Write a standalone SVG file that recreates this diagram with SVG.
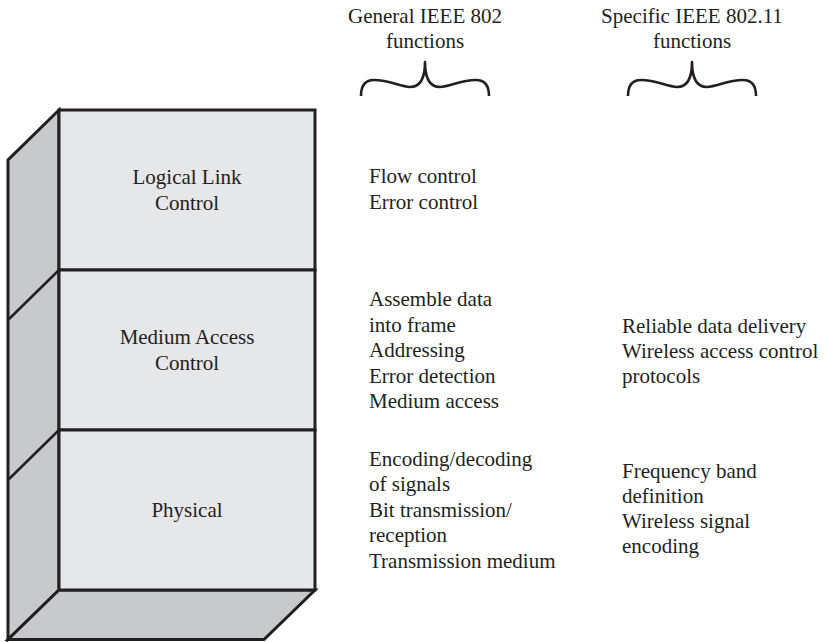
<svg xmlns="http://www.w3.org/2000/svg" width="825" height="642" viewBox="0 0 825 642">
<style>
text{font-family:'Liberation Serif','Tinos','Times New Roman','DejaVu Serif',serif;font-size:21px;fill:#231f20}
.c{text-anchor:middle}
.front{fill:#e6e7e9;stroke:#231f20;stroke-width:3;stroke-linejoin:miter}
.side{fill:#c8c9cb;stroke:#231f20;stroke-width:3;stroke-linejoin:miter}
.ln{fill:none;stroke:#231f20;stroke-width:2.5}
.brace{fill:none;stroke:#231f20;stroke-width:2.6;stroke-linecap:butt;stroke-linejoin:round}
</style>
<defs>
<path id="bracePath" d="M361,96 C361,86 365,80 374,80 C390,80 400,87 410,87 C419,87 425,80 425,62 C425,80 431,87 440,87 C450,87 460,80 476,80 C485,80 489,86 489,96"/>
</defs>
<g id="stack">
<polygon class="side" points="59,110 8,160 8,639.5 59,590"/>
<polygon class="side" points="59,590 315,590 264,639.5 8,639.5"/>
<line class="ln" x1="59" y1="270" x2="8" y2="320"/>
<line class="ln" x1="59" y1="430" x2="8" y2="480"/>
</g>
<g id="llc">
<rect class="front" x="59" y="110" width="256" height="160"/>
<text class="c" x="187" y="184">Logical Link</text>
<text class="c" x="187" y="210">Control</text>
</g>
<g id="mac">
<rect class="front" x="59" y="270" width="256" height="160"/>
<text class="c" x="187" y="344">Medium Access</text>
<text class="c" x="187" y="369.5">Control</text>
</g>
<g id="phy">
<rect class="front" x="59" y="430" width="256" height="160"/>
<text class="c" x="187" y="517">Physical</text>
</g>
<g id="header-general">
<text class="c" x="425" y="23">General IEEE 802</text>
<text class="c" x="425" y="48">functions</text>
<use href="#bracePath" class="brace"/>
</g>
<g id="header-specific">
<text class="c" x="692" y="23">Specific IEEE 802.11</text>
<text class="c" x="692" y="48">functions</text>
<use href="#bracePath" class="brace" transform="translate(267,0)"/>
</g>
<g id="llc-general">
<text x="369" y="183">Flow control</text>
<text x="369" y="209">Error control</text>
</g>
<g id="mac-general">
<text x="369" y="306">Assemble data</text>
<text x="369" y="331.5">into frame</text>
<text x="369" y="357">Addressing</text>
<text x="369" y="382.5">Error detection</text>
<text x="369" y="408">Medium access</text>
</g>
<g id="phy-general">
<text x="369" y="466">Encoding/decoding</text>
<text x="369" y="491">of signals</text>
<text x="369" y="516.5">Bit transmission/</text>
<text x="369" y="542">reception</text>
<text x="369" y="567.5">Transmission medium</text>
</g>
<g id="mac-specific">
<text x="622" y="332.5">Reliable data delivery</text>
<text x="622" y="358">Wireless access control</text>
<text x="622" y="383">protocols</text>
</g>
<g id="phy-specific">
<text x="622" y="477.5">Frequency band</text>
<text x="622" y="503">definition</text>
<text x="622" y="528">Wireless signal</text>
<text x="622" y="553">encoding</text>
</g>
<g id="connectors"></g>
</svg>
